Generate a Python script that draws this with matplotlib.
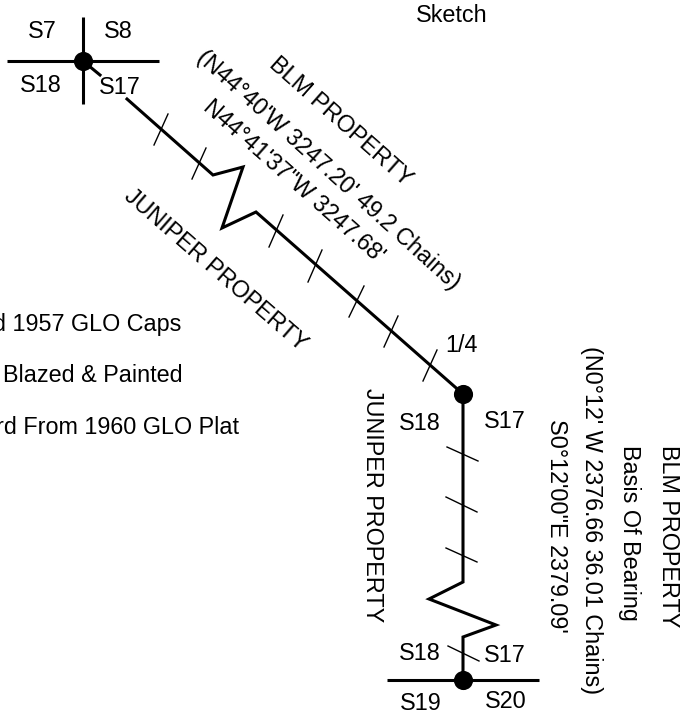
import matplotlib
matplotlib.use("Agg")
import matplotlib.pyplot as plt

W, H = 683, 716
FONT = "Liberation Sans"
FONT_PT = 16.8

section_lines = [
    [(7, 61), (159, 61)],
    [(83, 17), (83, 104)],
    [(387, 680), (539, 680)],
]
survey_line_a = [(83, 61), (100, 75)]
survey_line_b = [(127, 99), (213, 175), (243, 167), (222, 228), (256, 212), (463, 394),
                 (463, 582), (429, 599), (496, 625), (463, 637), (463, 680)]
corners = [(83, 61), (463, 394), (463, 680)]
ticks_diag = [(168, 114, 154, 145), (206, 148, 192, 179), (283, 215, 269, 247), (322, 250, 308, 282),
              (364, 286, 349, 317), (398, 316, 384, 347), (437, 350, 423, 381)]
ticks_vert = [(447, 447, 478, 461), (446, 497, 477, 512), (446, 548, 477, 562), (448, 646, 479, 661)]

labels = [
    ("Sketch", 452, 15.5, 0),
    ("S7", 42, 32, 0), ("S8", 118, 31, 0), ("S18", 41, 86, 0), ("S17", 120, 88, 0),
    ("BLM PROPERTY", 341, 122, -41.5),
    ("(N44°40'W 3247.20' 49.2 Chains)", 328, 170, -42),
    ("N44°41'37\"W 3247.68'", 294, 181, -41.5),
    ("JUNIPER PROPERTY", 216, 270, -41),
    ("d 1957 GLO Caps", 87, 325, 0),
    ("Blazed & Painted", 93, 376, 0),
    ("rd From 1960 GLO Plat", 118, 428, 0),
    ("1/4", 461, 345, 0),
    ("S18", 420, 424, 0), ("S17", 505, 422, 0),
    ("S18", 420, 653, 0), ("S17", 505, 656, 0),
    ("S19", 421, 704, 0), ("S20", 506, 702, 0),
    ("JUNIPER PROPERTY", 372, 505, -90),
    ("S0°12'00\"E 2379.09'", 556, 526, -90),
    ("(N0°12' W 2376.66 36.01 Chains)", 591, 520, -90),
    ("Basis Of Bearing", 630, 533, -90),
    ("BLM PROPERTY", 668, 536, -90),
]

fig = plt.figure(figsize=(W / 100, H / 100), dpi=100)
ax = fig.add_axes([0, 0, 1, 1])
ax.set_xlim(0, W)
ax.set_ylim(H, 0)
ax.axis("off")

for seg in section_lines:
    ax.plot([p[0] for p in seg], [p[1] for p in seg], color="black", lw=2.2, solid_capstyle="butt")
for seg in (survey_line_a, survey_line_b):
    ax.plot([p[0] for p in seg], [p[1] for p in seg], color="black", lw=2.2, solid_joinstyle="miter")
for x0, y0, x1, y1 in ticks_diag + ticks_vert:
    ax.plot([x0, x1], [y0, y1], color="black", lw=1.0)
ax.scatter([p[0] for p in corners], [p[1] for p in corners], s=190, color="black", linewidths=0, zorder=5)

for text, x, y, rot in labels:
    ax.text(x, y, text, fontsize=FONT_PT, family=FONT, rotation=rot, rotation_mode="anchor",
            ha="center", va="center", color="black")

fig.savefig("out.png", dpi=100)
